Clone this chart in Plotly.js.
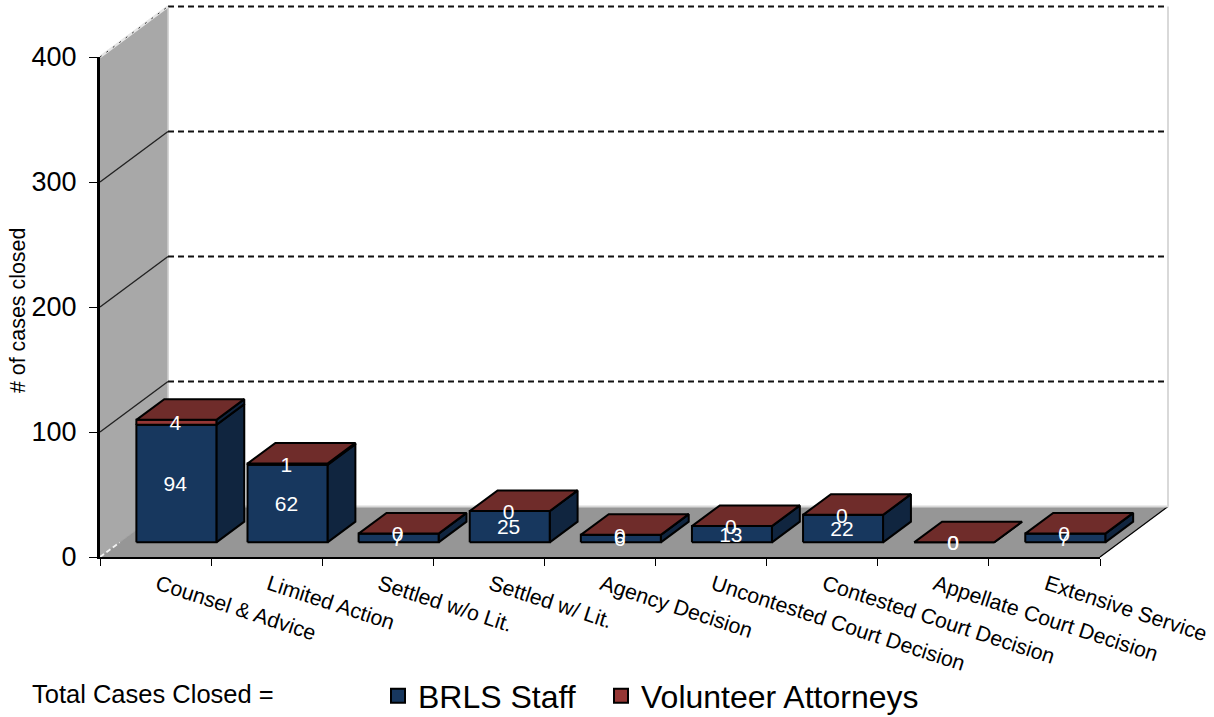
<!DOCTYPE html>
<html><head><meta charset="utf-8">
<script src="https://cdn.plot.ly/plotly-3.0.1.min.js"></script>
<style>html,body{margin:0;padding:0;background:#fff}#c{width:1214px;height:717px}</style>
</head><body><div id="c"></div>
<script>
const categories = ["Counsel & Advice","Limited Action","Settled w/o Lit.","Settled w/ Lit.","Agency Decision","Uncontested Court Decision","Contested Court Decision","Appellate Court Decision","Extensive Service"];
const brlsStaff = [94,62,7,25,6,13,22,0,7];
const volunteerAttorneys = [4,1,0,0,0,0,0,0,0];
const yTicks = [0,100,200,300,400];

// oblique projection: depth 0 (front) .. 1 (back wall), in axis units
const DX = 0.612, DY = 40.4, D0 = 0.29, D1 = 0.70, BAR = 0.36, SHIFT = 0.01, DROP = 2;
const P = (x, v, d) => [x + d * DX, v + d * DY];
const line = (pts, color, width, dash) => ({type:'scatter', mode:'lines', x:pts.map(p=>p[0]), y:pts.map(p=>p[1]),
  line:{color, width, dash:dash||'solid'}, showlegend:false, hoverinfo:'skip', cliponaxis:false});
const poly = (pts, fill, lineColor, width) => ({type:'scatter', mode:'lines', x:pts.map(p=>p?p[0]:null), y:pts.map(p=>p?p[1]:null),
  fill:'toself', fillcolor:fill, line:{color:lineColor, width:width}, showlegend:false, hoverinfo:'skip', cliponaxis:false});

const traces = [];
// walls and floor
traces.push(poly([P(0,0,0),P(0,400,0),P(0,400,1),P(0,0,1),P(0,0,0)], '#a8a8a8', '#a8a8a8', 0.5));
traces.push(poly([P(0,0,0),P(9,0,0),P(9,0,1),P(0,0,1),P(0,0,0)], '#969696', '#969696', 0.5));
traces.push(line([P(9,0,0),P(9,0,1)], '#000', 1.2));
traces.push(line([P(0,0,1),P(9,0,1)], '#d9d9d9', 2));
traces.push(line([P(9,0,1),P(9,400,1)], '#d9d9d9', 2));
traces.push(line([P(0,0,1),P(0,400,1)], '#cfcfcf', 1.5));
yTicks.filter(v=>v>0).forEach(v=>{
  if (v<400) traces.push(line([P(0,v,0),P(0,v,1)], '#222', 1.4));
  traces.push(line([P(0,v,1),P(9,v,1)], '#111', 2, '6px,4px'));
});
traces.push(line([P(0,400,0),P(0,400,1)], '#e6e6e6', 2.5));
traces.push(line([P(0,400,0),P(0,400,1)], '#333', 1, '2px,6px'));
traces.push(line([P(0,0,0),P(0,0,D0)], '#f2f2f2', 1.8, '5px,3px'));

// bars, built from the data
const faces = {bf:[],bs:[],rf:[],rs:[],rt:[]};
const box = (front, side, top, c, v0, v1) => {
  const l = c + 0.5 - BAR + SHIFT, r = c + 0.5 + BAR + SHIFT;
  front.push(P(l,v0,D0),P(r,v0,D0),P(r,v1,D0),P(l,v1,D0),P(l,v0,D0),null);
  side.push(P(r,v0,D0),P(r,v0,D1),P(r,v1,D1),P(r,v1,D0),P(r,v0,D0),null);
  if (top) top.push(P(l,v1,D0),P(r,v1,D0),P(r,v1,D1),P(l,v1,D1),P(l,v1,D0),null);
};
categories.forEach((_,i)=>{
  const b = brlsStaff[i], t = b + volunteerAttorneys[i];
  if (b>0) box(faces.bf, faces.bs, null, i, 0, b);
  box(faces.rf, faces.rs, faces.rt, i, b, t);
});
traces.push(poly(faces.bs,'#10253f','#000',2));
traces.push(poly(faces.bf,'#17375e','#000',2));
traces.push(poly(faces.rs,'#10253f','#000',2));
traces.push(poly(faces.rf,'#953735','#000',2));
traces.push(poly(faces.rt,'#6f2c2a','#000',2));

const FONT = 'Liberation Sans, Arial, sans-serif';
// data labels at the middle of each front face (on the framed axes, drawn on top)
const labels = (vals, base) => {
  const pts = vals.map((v,i)=>P(i+0.5, base[i]+v/2-DROP, D0));
  return {type:'scatter', mode:'text', xaxis:'x2', yaxis:'y2', x:pts.map(p=>p[0]), y:pts.map(p=>p[1]), text:vals.map(String),
    textposition:'middle center', textfont:{family:FONT, size:21, color:'#fff'},
    showlegend:false, hoverinfo:'skip', cliponaxis:false};
};
traces.push(labels(brlsStaff, brlsStaff.map(()=>0)));
traces.push(labels(volunteerAttorneys, brlsStaff));

// legend keys
const key = (name,color,legend)=>({type:'scatter', mode:'markers', xaxis:'x2', yaxis:'y2', x:[null], y:[null], name, legend,
  marker:{symbol:'square', size:14, color, line:{color:'#000', width:2}}, hoverinfo:'skip', showlegend:true});
traces.push(key('BRLS Staff','#17375e','legend'));
traces.push(key('Volunteer Attorneys','#953735','legend2'));

// page-pixel helpers for the plot area
const L=90, R=1174, T=0, B=567;
const px = x => (x-L)/(R-L), py = y => (B-y)/(B-T);
const legendOpt = x => ({orientation:'h', x:px(x), xanchor:'left', y:py(696), yanchor:'middle',
  font:{size:32, family:FONT}, itemsizing:'trace', bgcolor:'rgba(0,0,0,0)'});

const layout = {
  width:1214, height:717, paper_bgcolor:'#fff', plot_bgcolor:'rgba(0,0,0,0)',
  margin:{l:L, r:1214-R, t:T, b:717-B, autoexpand:false},
  font:{family:FONT, color:'#000'},
  // extended drawing area (same scale as the framed axes, hidden)
  xaxis:{visible:false, fixedrange:true, domain:[0,1], range:[(L-100)/(1000/9),(R-100)/(1000/9)]},
  yaxis:{visible:false, fixedrange:true, domain:[0,1], range:[(557-B)/1.25,(557-T)/1.25]},
  // framed axes with the actual lines, ticks and labels
  xaxis2:{anchor:'y2', domain:[px(100),px(1100)], range:[0,9], showgrid:false, zeroline:false, showline:true, linecolor:'#000', linewidth:2, fixedrange:true,
    tickmode:'array', tickvals:categories.map((_,i)=>i+0.5), ticktext:categories,
    tickangle:18, ticks:'', ticklen:0, tickfont:{size:21.3, family:FONT}, ticklabelstandoff:5, ticklabelshift:2,
    minor:{tickmode:'array', tickvals:categories.map((_,i)=>i).concat([categories.length]), ticks:'outside', ticklen:7, tickwidth:1, tickcolor:'#000', showgrid:false}},
  yaxis2:{anchor:'x2', domain:[py(557),py(57)], range:[0,400], showgrid:false, zeroline:false, showline:true, linecolor:'#000', linewidth:3, fixedrange:true,
    tickmode:'array', tickvals:yTicks, ticks:'outside', ticklen:8, tickwidth:1, tickcolor:'#000',
    tickfont:{size:27, family:FONT}, ticklabelstandoff:7},
  showlegend:true,
  legend:legendOpt(378),
  legend2:legendOpt(601),
  annotations:[
    {xref:'paper', yref:'paper', x:px(30), y:py(694), xanchor:'left', yanchor:'middle', text:'Total Cases Closed =', showarrow:false, font:{size:25.5, family:FONT}},
    {xref:'paper', yref:'paper', x:px(18), y:py(311), xanchor:'center', yanchor:'middle', text:'# of cases closed', textangle:-90, showarrow:false, font:{size:21.4, family:FONT}}
  ]
};
Plotly.newPlot('c', traces, layout, {displayModeBar:false, staticPlot:true});
</script></body></html>
